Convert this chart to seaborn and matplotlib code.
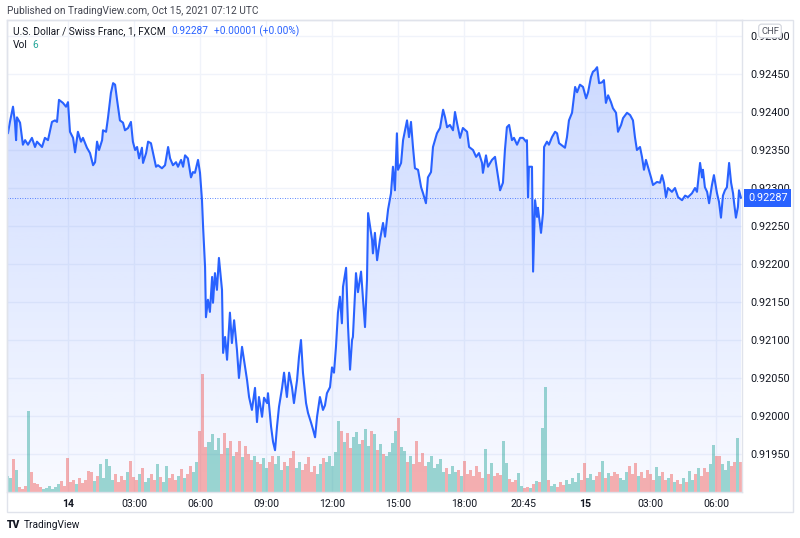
import numpy as np
import pandas as pd
import matplotlib
matplotlib.use("Agg")
import matplotlib.pyplot as plt
import matplotlib.transforms as mtransforms
from matplotlib.patches import Rectangle
import seaborn as sns

# ---------------- data ----------------
# chart hours: 0 = Oct 14 00:00 (the short session break after 21:00 is compressed, ~0.5 h)
price_hours = [
    -2.73, -2.64, -2.50, -2.41, -2.36, -2.32, -2.18, -2.05, -1.95, -1.82, -1.64, -1.50, -1.41, -1.18,
    -1.05, -0.91, -0.73, -0.59, -0.50, -0.41, -0.23, -0.09, 0.00, 0.09, 0.23, 0.32, 0.45, 0.59, 0.68,
    0.86, 1.00, 1.14, 1.23, 1.32, 1.41, 1.55, 1.59, 1.73, 1.82, 1.95, 2.05, 2.14, 2.23, 2.36, 2.50,
    2.59, 2.73, 2.86, 2.95, 3.05, 3.14, 3.23, 3.36, 3.41, 3.55, 3.64, 3.77, 3.86, 4.00, 4.09, 4.27,
    4.41, 4.55, 4.64, 4.77, 4.91, 5.00, 5.14, 5.23, 5.32, 5.45, 5.59, 5.68, 5.77, 5.91, 6.00, 6.09,
    6.14, 6.23, 6.27, 6.36, 6.45, 6.55, 6.59, 6.68, 6.77, 6.86, 7.00, 7.05, 7.14, 7.23, 7.36, 7.45,
    7.55, 7.68, 7.77, 7.91, 8.00, 8.14, 8.23, 8.36, 8.50, 8.59, 8.68, 8.82, 8.91, 9.05, 9.09, 9.23,
    9.32, 9.41, 9.50, 9.59, 9.73, 9.82, 9.95, 10.05, 10.18, 10.27, 10.41, 10.50, 10.59, 10.68, 10.82,
    10.91, 11.05, 11.14, 11.23, 11.32, 11.45, 11.59, 11.68, 11.77, 11.91, 12.00, 12.09, 12.18, 12.27,
    12.36, 12.45, 12.50, 12.64, 12.73, 12.82, 12.91, 12.95, 13.09, 13.18, 13.32, 13.41, 13.50, 13.59,
    13.64, 13.73, 13.82, 13.86, 13.95, 14.05, 14.18, 14.32, 14.41, 14.55, 14.68, 14.77, 14.86, 14.95,
    15.00, 15.14, 15.23, 15.41, 15.50, 15.59, 15.68, 15.77, 15.91, 16.05, 16.14, 16.27, 16.36, 16.50,
    16.59, 16.77, 16.91, 17.05, 17.14, 17.23, 17.36, 17.50, 17.59, 17.68, 17.82, 17.95, 18.14, 18.23,
    18.41, 18.55, 18.68, 18.82, 18.86, 19.00, 19.09, 19.27, 19.41, 19.50, 19.64, 19.77, 19.86, 19.95,
    20.05, 20.18, 20.27, 20.41, 20.55, 20.68, 20.82, 20.86, 20.91, 20.95, 21.09, 21.14, 21.23, 21.32,
    21.36, 21.50, 21.59, 21.64, 21.77, 21.86, 22.00, 22.14, 22.23, 22.32, 22.50, 22.59, 22.68, 22.77,
    22.91, 23.05, 23.14, 23.27, 23.41, 23.55, 23.64, 23.77, 23.86, 23.95, 24.05, 24.14, 24.27, 24.36,
    24.45, 24.55, 24.68, 24.77, 24.91, 25.00, 25.14, 25.23, 25.41, 25.55, 25.68, 25.77, 25.86, 26.00,
    26.09, 26.18, 26.27, 26.36, 26.50, 26.59, 26.77, 26.91, 27.00, 27.09, 27.18, 27.27, 27.45, 27.59,
    27.73, 27.91, 28.05, 28.18, 28.36, 28.50, 28.59, 28.73, 28.82, 28.86, 28.95, 29.05, 29.14, 29.27,
    29.36, 29.50, 29.59, 29.68, 29.77, 29.86, 29.95, 30.05, 30.14, 30.23, 30.27, 30.36, 30.45, 30.50,
    30.59,
]
price_values = [
    0.92372, 0.92387, 0.92407, 0.92386, 0.92363, 0.92393, 0.92386, 0.92357, 0.92363, 0.92357, 0.92366,
    0.92354, 0.92361, 0.92354, 0.92366, 0.92363, 0.92387, 0.92389, 0.92387, 0.92416, 0.92412, 0.92407,
    0.92413, 0.92374, 0.92366, 0.92347, 0.92374, 0.92361, 0.92366, 0.92353, 0.92346, 0.92330, 0.92334,
    0.92361, 0.92350, 0.92363, 0.92376, 0.92374, 0.92393, 0.92425, 0.92438, 0.92436, 0.92416, 0.92389,
    0.92386, 0.92376, 0.92379, 0.92387, 0.92361, 0.92350, 0.92354, 0.92339, 0.92353, 0.92333, 0.92346,
    0.92361, 0.92359, 0.92347, 0.92328, 0.92330, 0.92326, 0.92330, 0.92354, 0.92339, 0.92330, 0.92334,
    0.92328, 0.92337, 0.92328, 0.92343, 0.92339, 0.92314, 0.92321, 0.92320, 0.92337, 0.92320, 0.92284,
    0.92249, 0.92196, 0.92130, 0.92153, 0.92137, 0.92183, 0.92149, 0.92188, 0.92166, 0.92208, 0.92166,
    0.92083, 0.92104, 0.92074, 0.92136, 0.92096, 0.92126, 0.92087, 0.92050, 0.92091, 0.92074, 0.92047,
    0.92025, 0.92008, 0.92037, 0.91992, 0.92025, 0.91999, 0.92024, 0.92017, 0.92030, 0.91986, 0.91966,
    0.91955, 0.91986, 0.92012, 0.92037, 0.92057, 0.92025, 0.92057, 0.92038, 0.92017, 0.92047, 0.92078,
    0.92100, 0.92057, 0.92017, 0.92004, 0.91991, 0.91982, 0.91972, 0.91999, 0.92025, 0.92008, 0.92014,
    0.92030, 0.92038, 0.92064, 0.92057, 0.92091, 0.92136, 0.92157, 0.92122, 0.92170, 0.92195, 0.92117,
    0.92061, 0.92100, 0.92104, 0.92188, 0.92163, 0.92190, 0.92153, 0.92117, 0.92179, 0.92267, 0.92249,
    0.92232, 0.92214, 0.92241, 0.92205, 0.92232, 0.92254, 0.92236, 0.92272, 0.92293, 0.92328, 0.92297,
    0.92372, 0.92324, 0.92333, 0.92363, 0.92389, 0.92367, 0.92387, 0.92354, 0.92326, 0.92324, 0.92301,
    0.92293, 0.92280, 0.92314, 0.92321, 0.92354, 0.92372, 0.92379, 0.92403, 0.92393, 0.92380, 0.92383,
    0.92376, 0.92400, 0.92386, 0.92366, 0.92379, 0.92374, 0.92354, 0.92350, 0.92341, 0.92346, 0.92333,
    0.92320, 0.92343, 0.92328, 0.92337, 0.92341, 0.92324, 0.92297, 0.92307, 0.92350, 0.92380, 0.92383,
    0.92363, 0.92366, 0.92357, 0.92366, 0.92366, 0.92361, 0.92363, 0.92288, 0.92328, 0.92328, 0.92190,
    0.92284, 0.92262, 0.92274, 0.92241, 0.92267, 0.92354, 0.92361, 0.92357, 0.92367, 0.92374, 0.92372,
    0.92359, 0.92355, 0.92353, 0.92367, 0.92389, 0.92399, 0.92433, 0.92426, 0.92436, 0.92433, 0.92418,
    0.92426, 0.92446, 0.92453, 0.92455, 0.92459, 0.92438, 0.92439, 0.92442, 0.92412, 0.92422, 0.92413,
    0.92405, 0.92399, 0.92374, 0.92383, 0.92392, 0.92399, 0.92396, 0.92389, 0.92367, 0.92350, 0.92354,
    0.92341, 0.92324, 0.92337, 0.92328, 0.92314, 0.92304, 0.92308, 0.92307, 0.92317, 0.92307, 0.92288,
    0.92300, 0.92295, 0.92300, 0.92288, 0.92284, 0.92290, 0.92288, 0.92293, 0.92300, 0.92295, 0.92333,
    0.92314, 0.92324, 0.92301, 0.92295, 0.92280, 0.92304, 0.92317, 0.92293, 0.92282, 0.92261, 0.92290,
    0.92297, 0.92301, 0.92333, 0.92307, 0.92293, 0.92282, 0.92261, 0.92275, 0.92297, 0.92287,
]

# volume bars, one every ~8 minutes starting at chart hour -2.73
vol_start_hour = -2.73
vol_step_hour = 0.1364
volume_values = [
    16, 14, 33, 22, 5, 3, 6, 81, 20, 9, 8, 5, 3, 4, 6, 3, 5, 8, 11, 6, 34,
    10, 12, 8, 14, 9, 12, 21, 20, 11, 16, 28, 14, 33, 26, 12, 18, 10, 16, 12, 20,
    31, 15, 12, 18, 24, 10, 14, 18, 12, 28, 15, 10, 26, 14, 18, 12, 16, 23, 14, 18,
    26, 20, 30, 61, 118, 45, 50, 58, 42, 54, 38, 59, 44, 51, 36, 40, 51, 35, 46, 38,
    32, 36, 30, 28, 34, 24, 30, 36, 28, 36, 22, 30, 26, 34, 41, 24, 30, 22, 28, 35,
    20, 26, 18, 28, 34, 30, 36, 26, 40, 71, 61, 50, 59, 44, 55, 60, 48, 52, 63, 46,
    61, 58, 42, 48, 38, 36, 40, 49, 61, 74, 45, 41, 30, 36, 28, 51, 30, 39, 26, 30,
    36, 24, 28, 33, 20, 24, 18, 26, 20, 22, 16, 31, 18, 22, 16, 26, 20, 14, 43, 18,
    29, 16, 19, 17, 51, 29, 13, 10, 12, 19, 6, 4, 5, 4, 8, 11, 10, 64, 105, 12,
    6, 8, 5, 10, 7, 12, 8, 14, 10, 19, 12, 29, 14, 18, 12, 16, 20, 31, 14, 19,
    16, 20, 18, 14, 12, 20, 26, 18, 29, 16, 20, 14, 22, 18, 12, 25, 16, 20, 12, 14,
    18, 10, 12, 8, 14, 10, 21, 12, 18, 24, 16, 24, 20, 28, 47, 36, 36, 28, 22, 31,
    26, 30, 54, 30,
]
vol_axis_max = 472  # volume units spanning the full pane height

tick_labels = ["14", "03:00", "06:00", "09:00", "12:00", "15:00", "18:00",
               "20:45", "15", "03:00", "06:00"]
tick_hours = [0, 3, 6, 9, 12, 15, 18, 20.7, 23.5, 26.45, 29.45]
y_ticks = [0.91950, 0.92000, 0.92050, 0.92100, 0.92150, 0.92200, 0.92250,
           0.92300, 0.92350, 0.92400, 0.92450, 0.92500]

symbol = "U.S. Dollar / Swiss Franc, 1, FXCM"
last_price = 0.92287
change_text = "+0.00001 (+0.00%)"
last_vol = 6
published = "Published on TradingView.com, Oct 15, 2021 07:12 UTC"

# ---------------- style ----------------
sns.set_theme(style="white")
plt.rcParams['font.family'] = ['Roboto', 'DejaVu Sans']

BLUE = '#2962ff'
TEAL = '#26a69a'
RED = '#ef5350'
TXT = '#131722'
GRID = '#f0f3fa'
BORDER = '#e0e3eb'

W, H = 800, 538
fig = plt.figure(figsize=(W / 100, H / 100), dpi=100)
fig.patch.set_facecolor('white')
ax = fig.add_axes([7 / W, 1 - 492 / H, 735 / W, 472 / H])

x0, x1 = -2.773, 30.636
ylo, yhi = 0.91900, 0.925211

df = pd.DataFrame({'hour': price_hours, 'price': price_values})

# gradient area fill under the line
poly = ax.fill_between(df['hour'], df['price'], ylo, color='none', lw=0)
n = 256
rgba = np.zeros((n, 1, 4))
rgba[..., 0] = 41 / 255
rgba[..., 1] = 98 / 255
rgba[..., 2] = 1.0
rgba[..., 3] = np.linspace(0.03, 0.26, n).reshape(-1, 1)
im = ax.imshow(rgba, extent=[x0, x1, ylo, yhi], origin='lower', aspect='auto',
               zorder=1, interpolation='bilinear')
im.set_clip_path(poly.get_paths()[0], transform=ax.transData)

# volume
vol = np.array(volume_values, dtype=float)
vol_hours = vol_start_hour + vol_step_hour * np.arange(len(vol))
p_open = np.interp(vol_hours - vol_step_hour / 2, df['hour'], df['price'])
p_close = np.interp(vol_hours + vol_step_hour / 2, df['hour'], df['price'])
vcolors = [TEAL if c >= o else RED for o, c in zip(p_open, p_close)]
ax.bar(vol_hours, vol * (yhi - ylo) / vol_axis_max, bottom=ylo, width=vol_step_hour * 1.0,
       color=vcolors, alpha=0.45, lw=0, zorder=2)

# last price dotted line
ax.axhline(last_price, color=BLUE, lw=0.6, ls=(0, (1, 2)), zorder=3)

# price line
sns.lineplot(data=df, x='hour', y='price', ax=ax, color=BLUE, lw=1.5,
             estimator=None, sort=False, zorder=4)

ax.set_xlim(x0, x1)
ax.set_ylim(ylo, yhi)
ax.set_xlabel('')
ax.set_ylabel('')

ax.set_xticks(tick_hours)
ax.set_xticklabels(tick_labels)
ax.set_yticks(y_ticks)
ax.set_yticklabels([f"{v:.5f}" for v in y_ticks])
ax.yaxis.tick_right()
ax.tick_params(axis='y', length=0, pad=6, labelsize=7.8, labelcolor=TXT)
ax.tick_params(axis='x', length=0, pad=5, labelsize=7.6, labelcolor=TXT)
for lab in ax.get_xticklabels():
    if lab.get_text() in ("14", "15"):
        lab.set_fontweight('bold')
ax.grid(True, color=GRID, lw=1)
ax.set_axisbelow(True)
for s in ax.spines.values():
    s.set_color(BORDER)
    s.set_linewidth(1)

# outer frame
fig.add_artist(Rectangle((7 / W, 1 - 512 / H), 786 / W, 492 / H, transform=fig.transFigure,
                         fill=False, ec=BORDER, lw=1))

# last price label
tr = mtransforms.blended_transform_factory(ax.transAxes, ax.transData)
ax.text(1.0 + 6 / 735, last_price, f"{last_price:.5f}", transform=tr, ha='left', va='center',
        color='white', fontsize=7.8, zorder=10, clip_on=False,
        bbox=dict(boxstyle='square,pad=0.35', fc=BLUE, ec='none'))

# currency tag
fig.text(770 / W, 1 - 31 / H, "CHF", ha='center', va='center', fontsize=6.8, color='#50535e',
         zorder=20, bbox=dict(boxstyle='round,pad=0.25,rounding_size=0.3', fc='white', ec='#d1d4dc', lw=0.8))

# header texts
fig.text(7 / W, 1 - 11 / H, published, ha='left', va='center', fontsize=7.3, color='#434651')
t1 = fig.text(13 / W, 1 - 31 / H, symbol, ha='left', va='center', fontsize=7.3, color=TXT)
t2 = ax.annotate(f"{last_price:.5f}", xy=(1, 0.5), xycoords=t1, xytext=(4, 0),
                 textcoords='offset points', ha='left', va='center', fontsize=7.3, color=BLUE,
                 annotation_clip=False)
ax.annotate(change_text, xy=(1, 0.5), xycoords=t2, xytext=(4, 0), textcoords='offset points',
            ha='left', va='center', fontsize=7.3, color=BLUE, annotation_clip=False)
t3 = fig.text(13 / W, 1 - 45 / H, "Vol", ha='left', va='center', fontsize=7.3, color=TXT)
ax.annotate(str(last_vol), xy=(1, 0.5), xycoords=t3, xytext=(3, 0), textcoords='offset points',
            ha='left', va='center', fontsize=7.3, color=TEAL, annotation_clip=False)

# footer logo text
fig.text(7 / W, 1 - 525 / H, "TV", ha='left', va='center', fontsize=7.5, color=TXT,
         fontweight='black')
fig.text(24 / W, 1 - 525 / H, "TradingView", ha='left', va='center', fontsize=7.3, color=TXT)

fig.savefig("out.png", dpi=100, facecolor='white')
